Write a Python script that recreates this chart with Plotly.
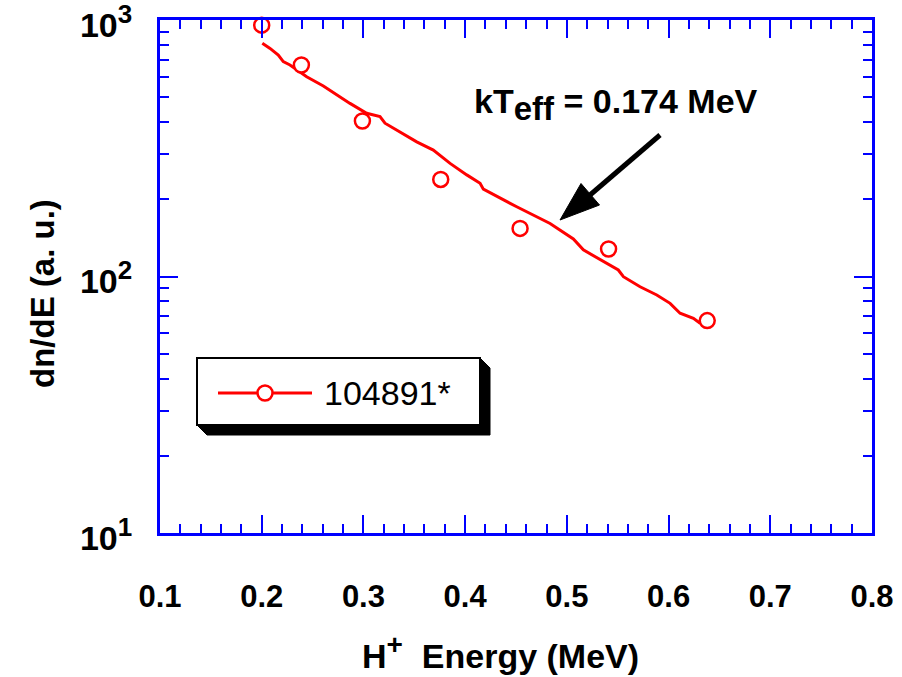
import plotly.graph_objects as go

# measured data points (open circles)
energy_pts = [0.200, 0.239, 0.299, 0.376, 0.454, 0.541, 0.638]
dnde_pts = [955, 668, 404, 239, 154, 128, 67.3]

# exponential fit curve as drawn (slightly jagged)
fit_energy = [0.2006, 0.2082, 0.2163, 0.2212, 0.2278, 0.2442, 0.2606, 0.2737, 0.2868,
              0.3032, 0.3163, 0.3212, 0.3360, 0.3524, 0.3687, 0.3852, 0.4016, 0.4147,
              0.4179, 0.4507, 0.4835, 0.5064, 0.5162, 0.5359, 0.5506, 0.5556, 0.5720,
              0.5884, 0.6015, 0.6113, 0.6244, 0.6310]
fit_dnde = [812, 775, 730, 688, 668, 601, 553, 510, 473,
            433, 420, 396, 367, 335, 311, 276, 249, 231,
            219, 187, 161, 140, 127, 114, 106, 99.8, 91.2,
            84.7, 78.6, 71.9, 68.7, 65.7]

series_name = "104891*"
x_ticks = [0.1, 0.2, 0.3, 0.4, 0.5, 0.6, 0.7, 0.8]
y_ticks = [10, 100, 1000]
y_exps = ["1", "2", "3"]
y_ticktext = [f'10<sup><span style="font-size:26px">{e}</span></sup>' for e in y_exps]
y_minor = [m * d for d in (10, 100) for m in range(2, 10)]

W, H = 902, 677
PX0, PX1, PY0, PY1 = 160, 872, 20, 533
PW, PH = PX1 - PX0, PY1 - PY0
L, T = PX0, PY0
R, B = W - L - PW, H - T - PH

def px(xp):
    return (xp - PX0) / PW

def py(yp):
    return (PY1 - yp) / PH

RED = "#FF0000"
BLUE = "#0000FF"
FONT = "Liberation Sans, Arial, sans-serif"

fig = go.Figure()
fig.add_trace(go.Scatter(x=fit_energy, y=fit_dnde, mode="lines",
                         line=dict(color=RED, width=3), showlegend=False,
                         hoverinfo="skip"))
fig.add_trace(go.Scatter(x=energy_pts, y=dnde_pts, mode="markers",
                         marker=dict(symbol="circle", size=15, color="white",
                                     line=dict(color=RED, width=2.5)),
                         showlegend=False, cliponaxis=False, name=series_name))

axis_common = dict(showline=True, linecolor=BLUE, linewidth=3, mirror="allticks",
                   ticks="inside", tickcolor=BLUE, tickwidth=2, ticklen=18,
                   showgrid=False, zeroline=False, ticklabeloverflow="allow",
                   automargin=False)

fig.update_xaxes(range=[0.1, 0.8], tickmode="array", tickvals=x_ticks,
                 ticktext=[f"{v:.1f}" for v in x_ticks], ticklabelstandoff=34,
                 tickfont=dict(family=FONT, size=31, color="black", weight="bold"),
                 minor=dict(ticks="inside", dtick=0.02, ticklen=9, tickwidth=2,
                            tickcolor=BLUE, showgrid=False),
                 **axis_common)
fig.update_yaxes(type="log", range=[0.99995, 3.00005], tickmode="array",
                 tickvals=y_ticks, ticktext=y_ticktext, ticklabelstandoff=18,
                 ticklabelshift=5,
                 tickfont=dict(family=FONT, size=34, color="black", weight="bold"),
                 minor=dict(ticks="inside", tickmode="array", tickvals=y_minor,
                            ticklen=9, tickwidth=2, tickcolor=BLUE, showgrid=False),
                 **axis_common)

shapes = []
# legend box with 3D shadow
bx0, by0, bx1, by1 = 197, 358, 480, 425
d = 10
shadow = (f"M {px(bx1)},{py(by0)} L {px(bx1+d)},{py(by0+d)} L {px(bx1+d)},{py(by1+d)} "
          f"L {px(bx0+d)},{py(by1+d)} L {px(bx0)},{py(by1)} L {px(bx1)},{py(by1)} Z")
shapes.append(dict(type="path", xref="paper", yref="paper", path=shadow,
                   fillcolor="black", line=dict(color="black", width=1)))
shapes.append(dict(type="rect", xref="paper", yref="paper",
                   x0=px(bx0), x1=px(bx1), y0=py(by0), y1=py(by1),
                   fillcolor="white", line=dict(color="black", width=2)))
ly = 393
shapes.append(dict(type="line", xref="paper", yref="paper",
                   x0=px(218), x1=px(312), y0=py(ly), y1=py(ly),
                   line=dict(color=RED, width=3)))
r = 7.5
shapes.append(dict(type="circle", xref="paper", yref="paper",
                   x0=px(265 - r), x1=px(265 + r), y0=py(ly + r), y1=py(ly - r),
                   fillcolor="white", line=dict(color=RED, width=2.5)))

# arrow
tail = (660, 135)
tip = (560, 220)
base = (590, 195)
shapes.append(dict(type="line", xref="paper", yref="paper",
                   x0=px(tail[0]), y0=py(tail[1]), x1=px(base[0]), y1=py(base[1]),
                   line=dict(color="black", width=5)))
head = (f"M {px(tip[0])},{py(tip[1])} L {px(599.5)},{py(205)} "
        f"L {px(581)},{py(183.5)} Z")
shapes.append(dict(type="path", xref="paper", yref="paper", path=head,
                   fillcolor="black", line=dict(color="black", width=1)))

annotations = [
    dict(xref="paper", yref="paper", x=px(322), y=py(ly), xanchor="left",
         yanchor="middle", text=series_name, showarrow=False,
         font=dict(family=FONT, size=34, color="black")),
    dict(xref="paper", yref="paper", x=px(616), y=py(104), xanchor="center",
         yanchor="middle", showarrow=False,
         text='kT<sub><span style="font-size:33px">eff</span></sub> = 0.174 MeV',
         font=dict(family=FONT, size=34, color="black", weight="bold")),
    dict(xref="paper", yref="paper", x=px(500), y=py(652), xanchor="center",
         yanchor="middle", showarrow=False,
         text='H<sup><span style="font-size:28px">+</span></sup>  Energy (MeV)',
         font=dict(family=FONT, size=34, color="black", weight="bold")),
    dict(xref="paper", yref="paper", x=px(42), y=py(294), xanchor="center",
         yanchor="middle", showarrow=False, textangle=-90,
         text="dn/dE (a. u.)",
         font=dict(family=FONT, size=33, color="black", weight="bold")),
]

fig.update_layout(width=W, height=H, margin=dict(l=L, r=R, t=T, b=B),
                  plot_bgcolor="white", paper_bgcolor="white",
                  shapes=shapes, annotations=annotations, showlegend=False)

fig.write_html("out.html", config={"displayModeBar": False},
               post_script="document.body.style.margin='0';document.body.style.overflow='hidden';")
